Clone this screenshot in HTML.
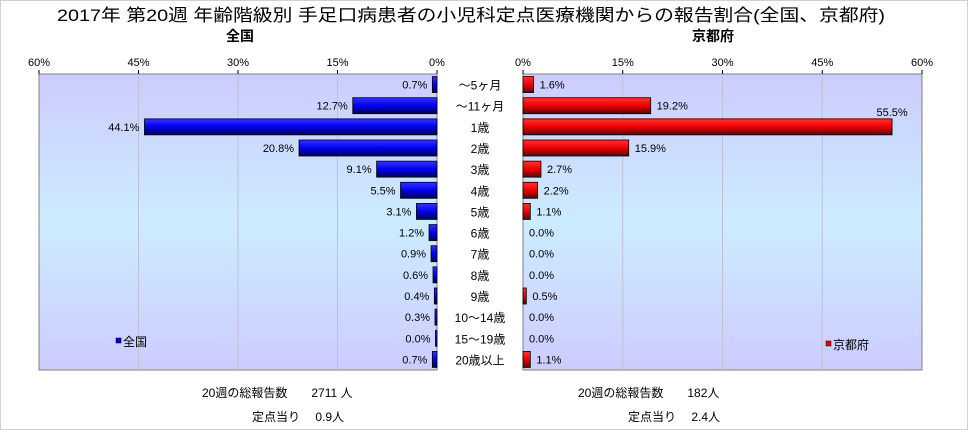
<!DOCTYPE html>
<html><head><meta charset="utf-8"><style>
body{margin:0;background:#fff;}
svg text{font-family:"Liberation Sans","Noto Sans CJK JP",sans-serif;}
</style></head><body>
<svg width="968" height="430" viewBox="0 0 968 430" xmlns="http://www.w3.org/2000/svg" id="chart">
<defs>
<linearGradient id="bg" x1="0" y1="0" x2="0" y2="1">
<stop offset="0" stop-color="#ccccff"/><stop offset="0.5" stop-color="#ccecff"/><stop offset="1" stop-color="#ccccff"/>
</linearGradient>
<linearGradient id="blue" x1="0" y1="0" x2="0" y2="1">
<stop offset="0" stop-color="#3333ff"/><stop offset="0.5" stop-color="#0000ee"/><stop offset="1" stop-color="#000066"/>
</linearGradient>
<linearGradient id="red" x1="0" y1="0" x2="0" y2="1">
<stop offset="0" stop-color="#ff3333"/><stop offset="0.5" stop-color="#ee0000"/><stop offset="1" stop-color="#660000"/>
</linearGradient>
</defs>
<rect x="0.5" y="0.5" width="967" height="429" fill="#fff" stroke="#d0d0d0"/>
<text x="57" y="21" font-size="17" textLength="828" lengthAdjust="spacingAndGlyphs">2017年 第20週 年齢階級別 手足口病患者の小児科定点医療機関からの報告割合(全国、京都府)</text>
<text x="240" y="41" font-size="14" font-weight="bold" text-anchor="middle">全国</text>
<text x="713" y="41" font-size="14" font-weight="bold" text-anchor="middle">京都府</text>
<rect x="39" y="74" width="398" height="296" fill="url(#bg)" stroke="#808080"/>
<rect x="523" y="74" width="399" height="296" fill="url(#bg)" stroke="#808080"/>
<g id="g"></g>
<rect x="116" y="338" width="5" height="5" fill="#0000ee" stroke="#000" stroke-width="0.5"/>
<text x="123" y="346" font-size="12">全国</text>
<rect x="826" y="341" width="5" height="5" fill="#ee0000" stroke="#000" stroke-width="0.5"/>
<text x="833" y="349" font-size="12">京都府</text>
<text x="202" y="397" font-size="12">20週の総報告数　　2711 人</text>
<text x="252" y="421" font-size="12">定点当り　 0.9人</text>
<text x="578" y="397" font-size="12">20週の総報告数　　182人</text>
<text x="628" y="421" font-size="12">定点当り　 2.4人</text>
</svg>
<script>
const categories=["～5ヶ月","～11ヶ月","1歳","2歳","3歳","4歳","5歳","6歳","7歳","8歳","9歳","10～14歳","15～19歳","20歳以上"];
const nationalValues=[0.7,12.7,44.1,20.8,9.1,5.5,3.1,1.2,0.9,0.6,0.4,0.3,0.0,0.7];
const kyotoValues=[1.6,19.2,55.5,15.9,2.7,2.2,1.1,0.0,0.0,0.0,0.5,0.0,0.0,1.1];
const tickValues=[0,15,30,45,60];
const NS="http://www.w3.org/2000/svg";
const g=document.getElementById('g');
const top0=74,plotH=296,rowH=plotH/categories.length,barH=16;
const lx=v=>437-v/60*398;
const rx=v=>523+v/60*399;
function el(t,a,txt){const e=document.createElementNS(NS,t);for(const k in a)e.setAttribute(k,a[k]);if(txt!==undefined)e.textContent=txt;g.appendChild(e);return e;}
tickValues.forEach(t=>{
  if(t>0&&t<60){
    let l=el('line',{x1:lx(t),x2:lx(t),y1:top0,y2:top0+plotH,stroke:'#c0c0d0'});
    
    
    let r=el('line',{x1:rx(t),x2:rx(t),y1:top0,y2:top0+plotH,stroke:'#c0c0d0'});
    
    
  }
  let a=el('text',{x:lx(t),y:66,'font-size':11,'text-anchor':'middle'},t+'%');
  
  
  let b=el('text',{x:rx(t),y:66,'font-size':11,'text-anchor':'middle'},t+'%');
  
  
  let c=el('line',{x1:lx(t),x2:lx(t),y1:top0-4,y2:top0,stroke:'#000'});
  
  
  let d=el('line',{x1:rx(t),x2:rx(t),y1:top0-4,y2:top0,stroke:'#000'});
  
  
});
el('rect',{x:438,y:top0-1,width:84,height:plotH+2,fill:'#fff'});
categories.forEach((c,i)=>{
  const cy=top0+rowH*(i+0.5);
  const nv=nationalValues[i],kv=kyotoValues[i];
  let w=Math.max(lx(0)-lx(nv),1.5);
  let b1=el('rect',{x:lx(0)-w,y:cy-barH/2,width:w,height:barH,fill:'url(#blue)',stroke:'#000','stroke-width':0.8});
  
  
  let t1=el('text',{x:lx(0)-w-5,y:cy+4,'font-size':11,'text-anchor':'end'},nv.toFixed(1)+'%');
  
  
  let w2=kv>0?Math.max(rx(kv)-rx(0),1.5):0;
  let b2=el('rect',{x:rx(0),y:cy-barH/2,width:w2,height:barH,fill:'url(#red)',stroke:kv>0?'#000':'none','stroke-width':0.8});
  
  
  let t2;
  if(i===2){t2=el('text',{x:rx(kv),y:cy-11,'font-size':11,'text-anchor':'middle'},kv.toFixed(1)+'%');}
  else{t2=el('text',{x:rx(0)+w2+6,y:cy+4,'font-size':11},kv.toFixed(1)+'%');}
  
  
  let cl=el('text',{x:480,y:cy+5,'font-size':12,'text-anchor':'middle'},c);
  
  
});
</script>
</body></html>
